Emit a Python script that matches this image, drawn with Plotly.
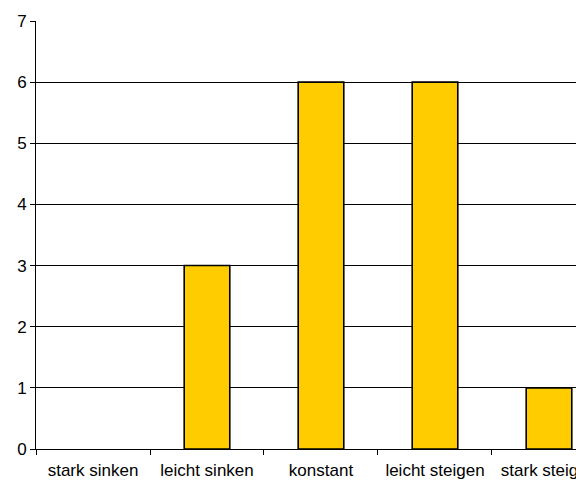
import plotly.graph_objects as go

categories = ["stark sinken", "leicht sinken", "konstant", "leicht steigen", "stark steigen"]
values = [0, 3, 6, 6, 1]

outline_widths = [1.6 if v > 0 else 0 for v in values]

fig = go.Figure(go.Bar(
    x=categories, y=values, width=0.4,
    marker=dict(color="#FFCC00", line=dict(color="#000000", width=outline_widths)),
))

fig.update_layout(
    width=576, height=482,
    margin=dict(l=36, r=0, t=21, b=33),
    paper_bgcolor="white", plot_bgcolor="white",
    font=dict(family="Liberation Sans, Arial, sans-serif", size=17, color="black"),
    showlegend=False,
)
fig.update_xaxes(
    range=[-0.5, 4.237], tickson="boundaries", ticks="outside", ticklen=5,
    tickcolor="black", showline=True, linecolor="black", linewidth=1,
    showgrid=False, tickfont=dict(size=17), automargin=False,
    ticklabelstandoff=6,
)
fig.update_yaxes(
    range=[0, 7], dtick=1, ticks="outside", ticklen=5, tickcolor="black",
    showline=True, linecolor="black", linewidth=1,
    showgrid=True, gridcolor="black", gridwidth=1, zeroline=False,
    tickfont=dict(size=17), automargin=False,
)

fig.write_html(
    "out.html",
    config={"displayModeBar": False},
    post_script="document.body.style.margin='0';document.body.style.overflow='hidden';",
)
